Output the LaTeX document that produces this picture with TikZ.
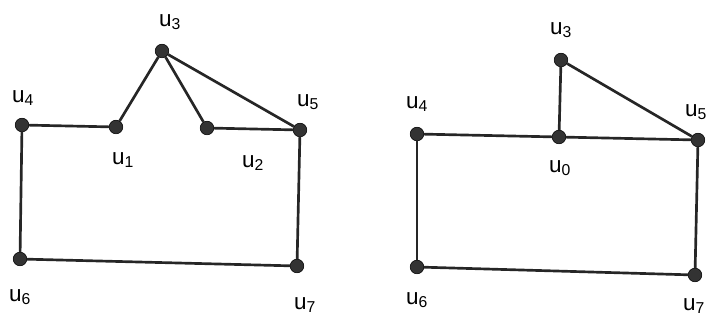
\documentclass[tikz,border=0pt]{standalone}
\usepackage{fontspec}
\setmainfont{Liberation Sans}
\usetikzlibrary{positioning}
\tikzset{
  vtx/.style  ={circle, fill=black!80, draw=black, inner sep=0pt, minimum size=3.4mm},
  edge/.style ={line width=1.9pt, draw=black!85},
  lab/.style  ={font=\fontsize{16}{18}\selectfont, inner sep=1pt},
}
\newcommand{\ulab}[1]{u\textsubscript{#1}}
\begin{document}
\begin{tikzpicture}[x=0.025cm, y=-0.025cm]
  \useasboundingbox (0,0) rectangle (710,320);
  % left graph
  \node[vtx] (a3) at (162,51) {};
  \node[vtx] (a4) at (22,125) {};
  \node[vtx] (a1) at (116,127) {};
  \node[vtx] (a2) at (207,128) {};
  \node[vtx] (a5) at (300,130) {};
  \node[vtx] (a6) at (20,259) {};
  \node[vtx] (a7) at (297,266) {};
  \node[lab] at (170,22) {\ulab{3}};
  \node[lab] at (23,98) {\ulab{4}};
  \node[lab] at (123,160) {\ulab{1}};
  \node[lab] at (253,163) {\ulab{2}};
  \node[lab] at (308,102) {\ulab{5}};
  \node[lab] at (20,297) {\ulab{6}};
  \node[lab] at (305,305) {\ulab{7}};
  \draw[edge] (a4) -- (a1);
  \draw[edge] (a1) -- (a3);
  \draw[edge] (a3) -- (a2);
  \draw[edge] (a3) -- (a5);
  \draw[edge] (a2) -- (a5);
  \draw[edge] (a4) -- (a6);
  \draw[edge] (a6) -- (a7);
  \draw[edge] (a5) -- (a7);
  % right graph
  \node[vtx] (b3) at (561,60) {};
  \node[vtx] (b0) at (559,137) {};
  \node[vtx] (b4) at (417,134) {};
  \node[vtx] (b5) at (698,140) {};
  \node[vtx] (b6) at (417,267) {};
  \node[vtx] (b7) at (695,275) {};
  \node[lab] at (561,30) {\ulab{3}};
  \node[lab] at (417,104) {\ulab{4}};
  \node[lab] at (560,168) {\ulab{0}};
  \node[lab] at (696,112) {\ulab{5}};
  \node[lab] at (417,300) {\ulab{6}};
  \node[lab] at (694,306) {\ulab{7}};
  \draw[edge] (b4) -- (b0);
  \draw[edge] (b0) -- (b5);
  \draw[edge] (b0) -- (b3);
  \draw[edge] (b3) -- (b5);
  \draw[edge] (b4) -- (b6);
  \draw[edge] (b6) -- (b7);
  \draw[edge] (b5) -- (b7);
\end{tikzpicture}
\end{document}
